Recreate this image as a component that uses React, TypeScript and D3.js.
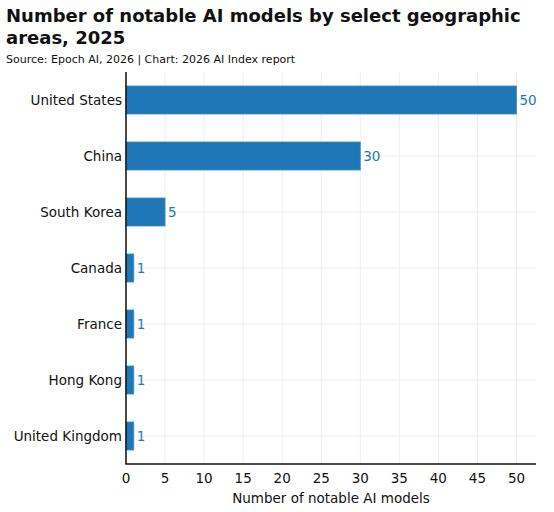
import { useEffect, useRef } from 'react'
import * as d3 from 'd3'

const countries = ['United States', 'China', 'South Korea', 'Canada', 'France', 'Hong Kong', 'United Kingdom']
const models = [50, 30, 5, 1, 1, 1, 1]
const xTicks = [0, 5, 10, 15, 20, 25, 30, 35, 40, 45, 50]

const titleLines = ['Number of notable AI models by select geographic', 'areas, 2025']
const subtitle = 'Source: Epoch AI, 2026 | Chart: 2026 AI Index report'
const xTitle = 'Number of notable AI models'

const FONT = '"DejaVu Sans", sans-serif'
const BLUE = '#1f77b8'
const LABEL_SIZE = 13.5

export default function App() {
  const svgRef = useRef<SVGSVGElement>(null)

  useEffect(() => {
    if (!svgRef.current) return
    const width = 554
    const height = 512
    const margin = { top: 72, right: 18, bottom: 48, left: 126 }

    const svg = d3.select(svgRef.current)
    svg.selectAll('*').remove()
    svg.attr('width', width).attr('height', height).style('font-family', FONT)

    // 标题
    const title = svg.append('text').attr('font-size', 18).attr('font-weight', 700).attr('fill', '#111')
    titleLines.forEach((t, i) => {
      title.append('tspan').attr('x', 6).attr('y', 22 + i * 22).text(t)
    })
    svg.append('text')
      .attr('x', 6).attr('y', 63)
      .attr('font-size', 11)
      .attr('fill', '#111')
      .text(subtitle)

    const x = d3.scaleLinear().domain([0, 52.5]).range([margin.left, width - margin.right])
    const y = d3.scaleBand<string>()
      .domain(countries)
      .range([margin.top, height - margin.bottom])
      .paddingInner(0.5)
      .paddingOuter(0.25)

    const g = svg.append('g')

    // 网格线
    g.selectAll('line.vgrid')
      .data(xTicks)
      .join('line')
      .attr('x1', d => x(d)).attr('x2', d => x(d))
      .attr('y1', margin.top).attr('y2', height - margin.bottom)
      .attr('stroke', '#eeeeee')
    g.selectAll('line.hgrid')
      .data(countries)
      .join('line')
      .attr('x1', margin.left).attr('x2', width - margin.right)
      .attr('y1', d => y(d)! + y.bandwidth() / 2)
      .attr('y2', d => y(d)! + y.bandwidth() / 2)
      .attr('stroke', '#eeeeee')

    // 条形
    g.selectAll('rect')
      .data(countries)
      .join('rect')
      .attr('x', x(0))
      .attr('y', d => y(d)!)
      .attr('width', (_, i) => x(models[i]) - x(0))
      .attr('height', y.bandwidth())
      .attr('fill', BLUE)
      .attr('stroke', '#3d8cc6')
      .attr('stroke-width', 0.8)

    g.selectAll('text.val')
      .data(countries)
      .join('text')
      .attr('x', (_, i) => x(models[i]) + 3)
      .attr('y', d => y(d)! + y.bandwidth() / 2)
      .attr('dy', '0.35em')
      .attr('font-size', LABEL_SIZE)
      .attr('fill', BLUE)
      .text((_, i) => String(models[i]))

    // 类别标签
    g.selectAll('text.cat')
      .data(countries)
      .join('text')
      .attr('x', margin.left - 4)
      .attr('y', d => y(d)! + y.bandwidth() / 2)
      .attr('dy', '0.35em')
      .attr('text-anchor', 'end')
      .attr('font-size', LABEL_SIZE)
      .attr('fill', '#111')
      .text(d => d)

    // 坐标轴
    g.append('line')
      .attr('x1', margin.left).attr('x2', margin.left)
      .attr('y1', margin.top).attr('y2', height - margin.bottom)
      .attr('stroke', '#111').attr('stroke-width', 1.5)
    g.append('line')
      .attr('x1', margin.left - 0.75).attr('x2', width - margin.right)
      .attr('y1', height - margin.bottom).attr('y2', height - margin.bottom)
      .attr('stroke', '#111').attr('stroke-width', 1.5)

    g.selectAll('text.tick')
      .data(xTicks)
      .join('text')
      .attr('x', d => x(d))
      .attr('y', height - margin.bottom + 19)
      .attr('text-anchor', 'middle')
      .attr('font-size', LABEL_SIZE)
      .attr('fill', '#111')
      .text(d => String(d))

    svg.append('text')
      .attr('x', (margin.left + width - margin.right) / 2)
      .attr('y', height - 9)
      .attr('text-anchor', 'middle')
      .attr('font-size', LABEL_SIZE)
      .attr('fill', '#111')
      .text(xTitle)
  }, [])

  return <svg ref={svgRef} style={{ position: 'absolute', left: 0, top: 0 }} />
}
